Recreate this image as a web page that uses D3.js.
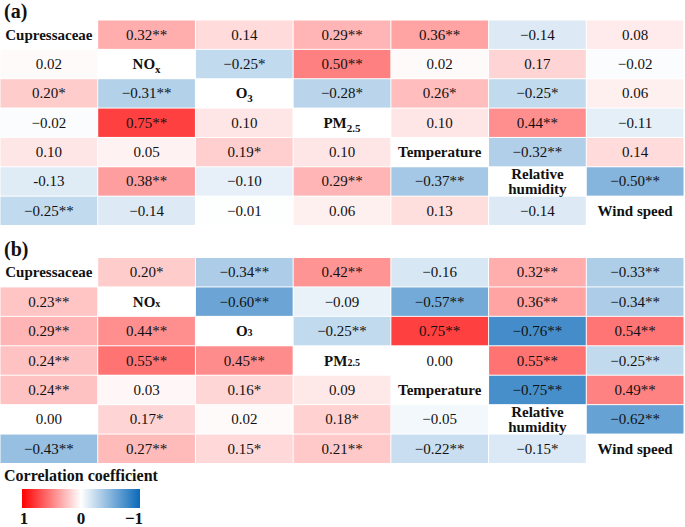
<!DOCTYPE html>
<html><head><meta charset="utf-8">
<script src="https://cdn.jsdelivr.net/npm/d3@7/dist/d3.min.js"></script>
<style>body{margin:0;background:#fff}svg{display:block}</style>
</head><body><svg id="c" width="685" height="527"></svg>
<script>
const variables = ["Cupressaceae","NOx","O3","PM2.5","Temperature","Relative humidity","Wind speed"];
// panel (a) correlation values (row-major, null on diagonal)
const valuesA = [
 [null, 0.32, 0.14, 0.29, 0.36, -0.14, 0.08],
 [0.02, null, -0.25, 0.50, 0.02, 0.17, -0.02],
 [0.20, -0.31, null, -0.28, 0.26, -0.25, 0.06],
 [-0.02, 0.75, 0.10, null, 0.10, 0.44, -0.11],
 [0.10, 0.05, 0.19, 0.10, null, -0.32, 0.14],
 [-0.13, 0.38, -0.10, 0.29, -0.37, null, -0.50],
 [-0.25, -0.14, -0.01, 0.06, 0.13, -0.14, null]
];
const sigA = [
 ["","**","","**","**","",""],
 ["","","*","**","","",""],
 ["*","**","","*","*","*",""],
 ["","**","","","","**",""],
 ["","","*","","","**",""],
 ["","**","","**","**","","**"],
 ["**","","","","","",""]
];
// panel (b)
const valuesB = [
 [null, 0.20, -0.34, 0.42, -0.16, 0.32, -0.33],
 [0.23, null, -0.60, -0.09, -0.57, 0.36, -0.34],
 [0.29, 0.44, null, -0.25, 0.75, -0.76, 0.54],
 [0.24, 0.55, 0.45, null, 0.00, 0.55, -0.25],
 [0.24, 0.03, 0.16, 0.09, null, -0.75, 0.49],
 [0.00, 0.17, 0.02, 0.18, -0.05, null, -0.62],
 [-0.43, 0.27, 0.15, 0.21, -0.22, -0.15, null]
];
const sigB = [
 ["","*","**","**","","**","**"],
 ["**","","**","","**","**","**"],
 ["**","**","","**","**","**","**"],
 ["**","**","**","","","**","**"],
 ["**","","*","","","**","**"],
 ["","*","","*","","","**"],
 ["**","**","*","**","**","*",""]
];
const hyphenCellsA = ["5,0"]; // printed with a plain hyphen in the source
const legendTicks = [1, 0, -1];
const legendTitle = "Correlation coefficient";

const FONT = "Liberation Serif";
const svg = d3.select("#c");
const color = d3.scaleLinear().domain([-1, 0, 1])
  .range(["rgb(10,105,185)", "#ffffff", "#ff0000"]).clamp(true);
const x = d3.scaleBand().domain(d3.range(variables.length)).range([0, 684]);

function txt(sel) {
  return sel.attr("font-family", FONT).attr("fill", "#111");
}

function fmt(v, hyphen) {
  const s = Math.abs(v).toFixed(2);
  if (v < 0) return (hyphen ? "-" : "\u2212") + s;
  return s;
}

function label(g, name, cx, cy, lowered) {
  const t = txt(g.append("text")).attr("x", cx).attr("text-anchor", "middle")
    .attr("font-weight", "bold").attr("font-size", 15);
  const sub = (base, s) => {
    t.attr("y", cy + 5);
    t.append("tspan").text(base);
    const sp = t.append("tspan").attr("font-size", lowered ? 11 : 10).text(s);
    if (lowered) sp.attr("dy", 4);
  };
  if (name === "NOx") sub("NO", "x");
  else if (name === "O3") sub("O", "3");
  else if (name === "PM2.5") sub("PM", "2.5");
  else if (name === "Relative humidity") {
    t.append("tspan").attr("x", cx).attr("y", cy - 2).text("Relative");
    t.append("tspan").attr("x", cx).attr("y", cy + 12.5).text("humidity");
  } else { t.attr("y", cy + 5).text(name); }
}

function panel(vals, sig, top, bottom, tag, lowered, hyph) {
  const y = d3.scaleBand().domain(d3.range(variables.length)).range([top, bottom]);
  const g = svg.append("g");
  const cells = [];
  vals.forEach((row, i) => row.forEach((v, j) => cells.push({i, j, v, s: sig[i][j]})));
  g.selectAll("rect").data(cells.filter(d => d.v !== null)).join("rect")
    .attr("x", d => x(d.j) + 0.5).attr("y", d => y(d.i) + 0.5)
    .attr("width", x.bandwidth() - 1).attr("height", y.bandwidth() - 1)
    .attr("fill", d => color(d.v));
  txt(g.selectAll("text.v").data(cells.filter(d => d.v !== null)).join("text"))
    .attr("class", "v")
    .attr("x", d => x(d.j) + x.bandwidth() / 2)
    .attr("y", d => y(d.i) + y.bandwidth() / 2 + 5)
    .attr("text-anchor", "middle").attr("font-size", 15)
    .text(d => fmt(d.v, hyph.includes(d.i + "," + d.j)) + d.s);
  variables.forEach((name, k) => {
    label(g, name, x(k) + x.bandwidth() / 2, y(k) + y.bandwidth() / 2, lowered);
  });
  txt(svg.append("text")).attr("x", 4).attr("y", top - 2)
    .attr("font-weight", "bold").attr("font-size", 20).text(tag);
}

panel(valuesA, sigA, 20, 225.5, "(a)", true, hyphenCellsA);
panel(valuesB, sigB, 257.5, 463.5, "(b)", false, []);

// legend
const defs = svg.append("defs");
const grad = defs.append("linearGradient").attr("id", "lg");
const lx = d3.scaleLinear().domain([1, -1]).range([22, 140]);
d3.range(1, -1.001, -0.1).forEach(v => {
  grad.append("stop").attr("offset", ((lx(v) - 22) / 118 * 100) + "%").attr("stop-color", color(v));
});
txt(svg.append("text")).attr("x", 4).attr("y", 481).attr("font-weight", "bold")
  .attr("font-size", 16).text(legendTitle);
svg.append("rect").attr("x", lx(1)).attr("y", 489).attr("width", lx(-1) - lx(1))
  .attr("height", 19).attr("fill", "url(#lg)");
txt(svg.selectAll("text.lt").data(legendTicks).join("text")).attr("class", "lt")
  .attr("x", (d, i) => lx(d) + (i === 0 ? 2 : i === 2 ? -6 : 0))
  .attr("y", 524).attr("text-anchor", "middle").attr("font-weight", "bold")
  .attr("font-size", 17).text(d => d < 0 ? "\u2212" + Math.abs(d) : d);
</script></body></html>
